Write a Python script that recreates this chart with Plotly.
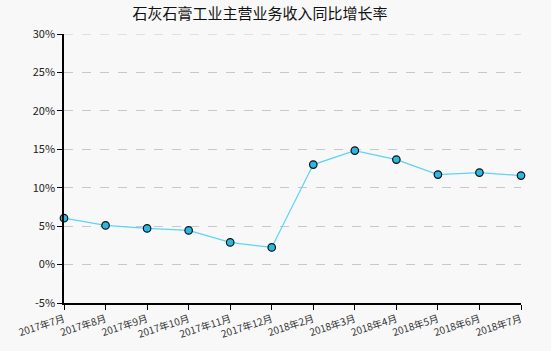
import plotly.graph_objects as go

categories = ["2017年7月", "2017年8月", "2017年9月", "2017年10月", "2017年11月", "2017年12月",
              "2018年2月", "2018年3月", "2018年4月", "2018年5月", "2018年6月", "2018年7月"]
growth = [6.04, 5.09, 4.70, 4.44, 2.88, 2.23, 13.01, 14.83, 13.66, 11.71, 11.97, 11.58]
y_ticks = [-5, 0, 5, 10, 15, 20, 25, 30]
y_labels = [f"{v}%" for v in y_ticks]
y_top = 30

fig = go.Figure()
fig.add_trace(go.Scatter(
    x=categories, y=growth, mode="lines+markers",
    line=dict(color="#5cd3f5", width=1.2),
    marker=dict(size=7.5, color="#2ab8e3", line=dict(color="#111111", width=1.2)),
    cliponaxis=False, showlegend=False,
))

# top gridline at the edge of the range (Plotly hides edge gridlines)
fig.add_shape(type="line", xref="paper", yref="y", x0=0, x1=1, y0=y_top, y1=y_top,
              line=dict(color="#c8c8c8", width=1, dash="dash"), layer="below")

fig.update_layout(
    width=551, height=351,
    margin=dict(l=64, r=30, t=34, b=48),
    paper_bgcolor="#f8f8f8", plot_bgcolor="#f8f8f8",
    font=dict(family="Noto Sans CJK SC, DejaVu Sans, sans-serif", color="#222222", size=11),
    title=dict(text="石灰石膏工业主营业务收入同比增长率", x=0.472, xanchor="center",
               y=0.96, yanchor="middle",
               font=dict(size=15, color="#111111")),
    xaxis=dict(type="category", range=[0, 11], showgrid=False, zeroline=False,
               showline=True, linecolor="#000000", linewidth=1.5, automargin=False,
               ticks="outside", ticklen=5, tickcolor="#000000",
               tickangle=-18, tickfont=dict(size=10, color="#333333")),
    yaxis=dict(range=[-5, y_top], tickvals=y_ticks, ticktext=y_labels,
               showgrid=True, gridcolor="#c8c8c8", griddash="dash", gridwidth=1,
               zeroline=False, showline=True, linecolor="#000000", linewidth=1.5,
               automargin=False,
               ticks="outside", ticklen=5, tickcolor="#000000",
               tickfont=dict(size=11, color="#222222")),
)

fig.write_html("out.html")
